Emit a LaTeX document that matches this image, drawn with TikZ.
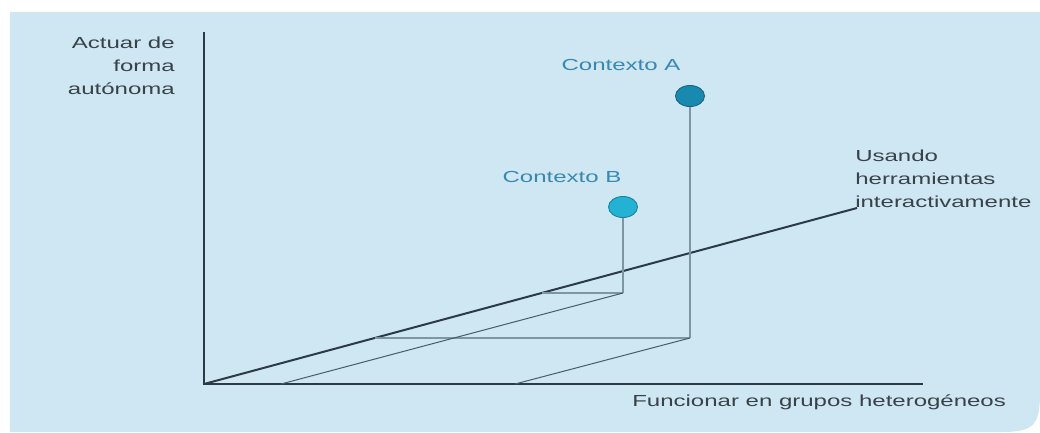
\documentclass[tikz,border=0pt]{standalone}
\usepackage{fontspec}
\setmainfont{Liberation Sans}
\usetikzlibrary{shapes.geometric}
\definecolor{bgblue}{RGB}{206,231,243}
\definecolor{axiscol}{RGB}{44,58,70}
\definecolor{stemcol}{RGB}{124,150,162}
\definecolor{projcol}{RGB}{70,92,106}
\definecolor{labcol}{RGB}{56,66,72}
\definecolor{ctxcol}{RGB}{56,136,178}
\definecolor{dotA}{RGB}{24,138,176}
\definecolor{dotAb}{RGB}{22,100,130}
\definecolor{dotB}{RGB}{36,178,212}
\definecolor{dotBb}{RGB}{24,130,160}
\begin{document}
\begin{tikzpicture}[x=1pt,y=-1pt,
  axis/.style={draw=axiscol,line width=2pt},
  stem/.style={draw=stemcol,line width=1.6pt},
  proj/.style={draw=projcol,line width=1pt},
  hproj/.style={draw=stemcol,line width=1.5pt},
  lab/.style={font=\fontsize{16}{23}\selectfont,text=labcol,inner sep=0pt,xscale=1.5},
  ctx/.style={font=\fontsize{16}{23}\selectfont,text=ctxcol,inner sep=0pt,xscale=1.5},
  dot/.style={ellipse,minimum width=29pt,minimum height=21pt,inner sep=0pt,line width=0.9pt}]
\useasboundingbox (0,0) rectangle (1040,432);
\fill[bgblue] (10,12) -- (1040,12) -- (1040,392) .. controls (1040,426) and (1034,432) .. (1000,432) -- (10,432) -- cycle;
% axes
\coordinate (O) at (204,384);
\coordinate (Ytop) at (204,32);
\coordinate (Xend) at (923,384);
\coordinate (Dend) at (857,208);
\draw[axis] (Ytop) -- (O) -- (Xend);
\draw[axis] (O) -- (Dend);
% context A
\node[dot,fill=dotA,draw=dotAb] (A) at (690,96) {};
\coordinate (Abase) at (690,338);
\coordinate (Aleft) at (375,338);
\coordinate (Ax) at (515,384);
\draw[stem] (A.south) -- (Abase);
\draw[hproj] (Aleft) -- (Abase);
\draw[proj] (Abase) -- (Ax);
% context B
\node[dot,fill=dotB,draw=dotBb] (B) at (623,207) {};
\coordinate (Bbase) at (623,293);
\coordinate (Bleft) at (542,293);
\coordinate (Bx) at (281,384);
\draw[stem] (B.south) -- (Bbase);
\draw[hproj] (Bleft) -- (Bbase);
\draw[proj] (Bbase) -- (Bx);
% labels
\node[ctx] (cA) at (621,65) {Contexto A};
\node[ctx] (cB) at (562,177) {Contexto B};
\node[lab,anchor=east,align=right] (ly) at (175,66) {Actuar de\\forma\\autónoma};
\node[lab,anchor=west,align=left] (ld) at (855,179) {Usando\\herramientas\\interactivamente};
\node[lab,anchor=west] (lx) at (632,402) {Funcionar en grupos heterogéneos};
\end{tikzpicture}
\end{document}
